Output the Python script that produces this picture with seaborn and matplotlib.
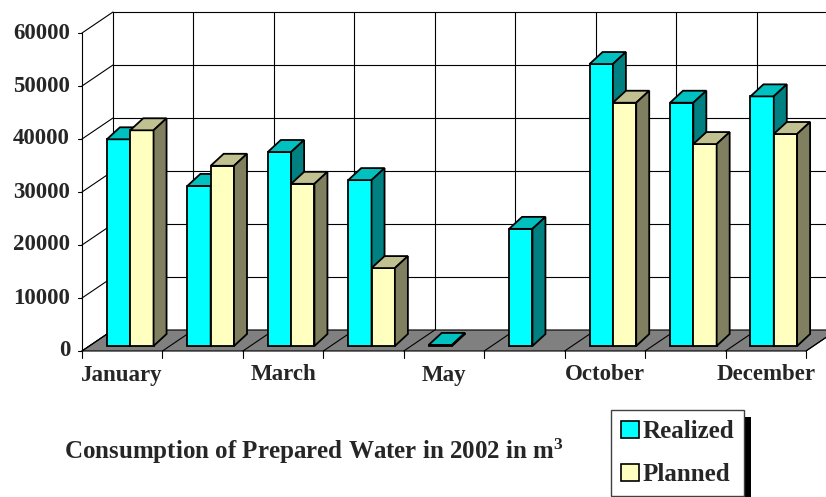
import numpy as np
import pandas as pd
import matplotlib
matplotlib.use("Agg")
import matplotlib.pyplot as plt
from matplotlib.patches import Polygon, Patch, Rectangle
import seaborn as sns

# Data (m3)
months = ["January", "February", "March", "April", "May",
          "September", "October", "November", "December"]
realized = [39000, 30200, 36600, 31300, 200, 22100, 53200, 45900, 47100]
planned = [40700, 34000, 30600, 14700, np.nan, np.nan, 45900, 38100, 40000]
series = ["Realized", "Planned"]
y_ticks = [0, 10000, 20000, 30000, 40000, 50000, 60000]

front_cols = {"Realized": "#00FFFF", "Planned": "#FFFFC0"}
top_cols = {"Realized": "#00C0C0", "Planned": "#C0C090"}
side_cols = {"Realized": "#008080", "Planned": "#808060"}

df = pd.DataFrame({
    "month": months * 2,
    "value": realized + planned,
    "series": ["Realized"] * len(months) + ["Planned"] * len(months),
})

sns.set_style("white")
plt.rcParams["font.family"] = ["Liberation Serif", "DejaVu Serif"]
plt.rcParams["font.weight"] = "bold"
plt.rcParams["mathtext.fontset"] = "custom"
plt.rcParams["mathtext.rm"] = "Liberation Serif:bold"
plt.rcParams["mathtext.it"] = "Liberation Serif:bold"
plt.rcParams["mathtext.bf"] = "Liberation Serif:bold"

W, H = 826, 497
fig = plt.figure(figsize=(W / 100, H / 100), dpi=100)
# front plane of the 3D box
ax = fig.add_axes([82 / W, 146 / H, 724 / W, 318 / H])

sns.barplot(data=df, x="month", y="value", hue="series", order=months,
            hue_order=series, palette=front_cols, width=0.58, saturation=1,
            edgecolor="black", linewidth=1.3, legend=False, ax=ax)

ax.set_xlim(-0.5, len(months) - 0.5)
ax.set_ylim(0, 60000)
ax.set_axis_off()

sx = 724 / len(months)   # px per category
sy = 318 / 60000         # px per unit


def off(px, py):
    return px / sx, py / sy


x_lo, x_hi = -0.5, len(months) - 0.5
fx, fy = off(31, 21)     # depth of the floor / back wall
bx, by = off(8, 5)       # where bar fronts stand
dx, dy = off(13, 12)     # depth of each bar
line_kw = dict(color="black", lw=0.8, clip_on=False)

# back wall grid
for v in y_ticks:
    ax.plot([x_lo + fx, x_hi + fx], [v + fy, v + fy], zorder=0.5, **line_kw)
for k in range(len(months) + 1):
    ax.plot([x_lo + k + fx] * 2, [fy, 60000 + fy], zorder=0.5, **line_kw)
# left wall
for v in y_ticks:
    ax.plot([x_lo, x_lo + fx], [v, v + fy], zorder=0.5, **line_kw)
ax.plot([x_lo, x_lo], [0, 60000], zorder=0.5, **line_kw)
for v in y_ticks:
    tx, _ = off(4, 0)
    ax.plot([x_lo - tx, x_lo], [v, v], zorder=0.5, **line_kw)
    lx, _ = off(12, 0)
    ax.text(x_lo - lx, v, str(v), ha="right", va="center", fontsize=16.5,
            fontweight="bold")

# floor
ax.add_patch(Polygon([(x_lo, 0), (x_hi, 0), (x_hi + fx, fy), (x_lo + fx, fy)],
                     closed=True, facecolor="#808080", edgecolor="black",
                     lw=0.8, zorder=1, clip_on=False))
_, tick_len = off(0, 7)
for k in range(len(months) + 1):
    xk = x_lo + k
    ax.plot([xk, xk + fx], [0, fy], zorder=1.5, **line_kw)
    ax.plot([xk, xk], [0, -tick_len], zorder=1.5, **line_kw)

_, lab_y = off(0, 24)
for i, m in enumerate(months):
    if i % 2 == 0:
        ax.text(i, -lab_y, m, ha="center", va="center", fontsize=16.5,
                fontweight="bold")

# give the bars their 3D top and side faces
for s_idx, (name, cont) in enumerate(zip(series, ax.containers)):
    z = 3 + s_idx
    for bar in cont:
        h = bar.get_height()
        if not np.isfinite(h) or h <= 0:
            bar.set_visible(False)
            continue
        x0 = bar.get_x() + bx
        x1 = x0 + bar.get_width()
        bar.set_x(x0)
        bar.set_y(by)
        bar.set_zorder(z)
        bar.set_clip_on(False)
        top = by + h
        ax.add_patch(Polygon([(x0, top), (x1, top), (x1 + dx, top + dy),
                              (x0 + dx, top + dy)], closed=True,
                             facecolor=top_cols[name], edgecolor="black",
                             lw=1.3, zorder=z, clip_on=False))
        ax.add_patch(Polygon([(x1, by), (x1, top), (x1 + dx, top + dy),
                              (x1 + dx, by + dy)], closed=True,
                             facecolor=side_cols[name], edgecolor="black",
                             lw=1.3, zorder=z, clip_on=False))

fig.text(64 / W, 1 - 459 / H, "Consumption of Prepared Water in 2002 in m$^3$",
         ha="left", va="baseline", fontsize=18, fontweight="bold")

handles = [Patch(facecolor=front_cols[s], edgecolor="black", lw=1.2) for s in series]
leg = fig.legend(handles, series, loc="upper left",
                 bbox_to_anchor=(611 / W, 1 - 410 / H), frameon=True,
                 fancybox=False, edgecolor="#404040", framealpha=1,
                 fontsize=18, handlelength=0.7, handleheight=0.7,
                 handletextpad=0.15, labelspacing=0.8, borderpad=0.4,
                 borderaxespad=0)
leg.get_frame().set_linewidth(1.0)

fig.canvas.draw()
bb = leg.get_window_extent()
fig.add_artist(Rectangle((bb.x0 + 7, bb.y0 - 7), bb.width, bb.height,
                         transform=None, facecolor="black", edgecolor="none",
                         zorder=leg.get_zorder() - 0.1))

fig.savefig("out.png", dpi=100)
